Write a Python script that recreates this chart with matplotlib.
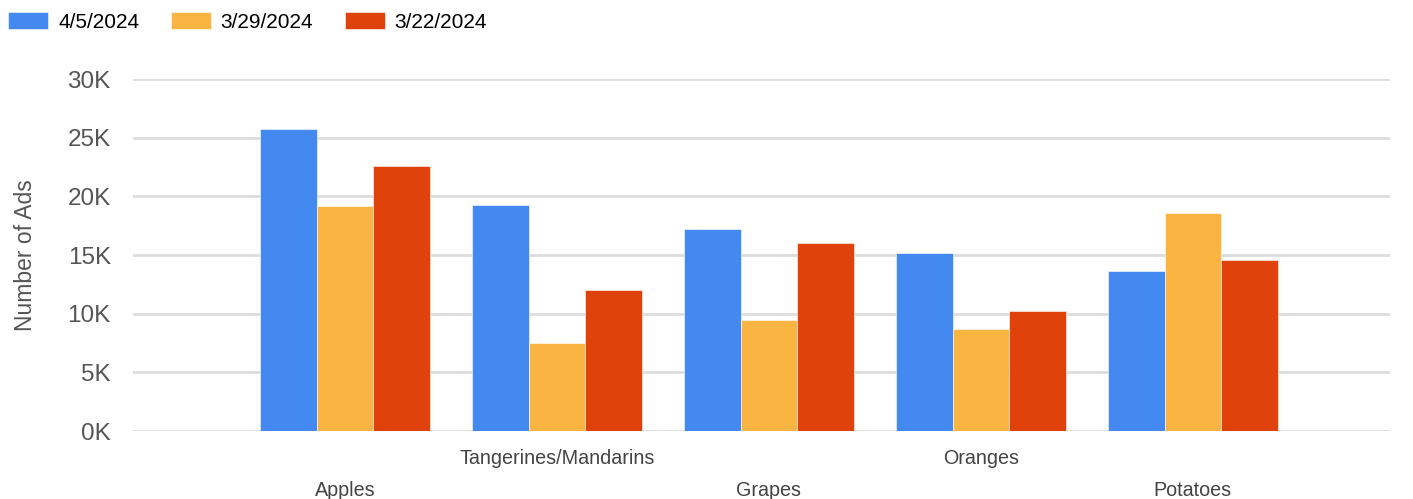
import matplotlib
matplotlib.use("Agg")
import matplotlib.pyplot as plt
import numpy as np

# 数据（单位：千）
categories = ["Apples", "Tangerines/Mandarins", "Grapes", "Oranges", "Potatoes"]
series_names = ["4/5/2024", "3/29/2024", "3/22/2024"]
ads_0405 = [25.7, 19.3, 17.25, 15.15, 13.6]
ads_0329 = [19.2, 7.5, 9.5, 8.7, 18.6]
ads_0322 = [22.6, 12.0, 16.0, 10.2, 14.6]
y_ticks = [0, 5, 10, 15, 20, 25, 30]

colors = ["#4389f0", "#fab442", "#e0420b"]

plt.rcParams["font.family"] = ["Liberation Sans", "DejaVu Sans"]

fig = plt.figure(figsize=(14.13, 4.99), dpi=100)
W, H = 1413, 499
ax = fig.add_axes([133 / W, (H - 431) / H, (1390 - 133) / W, (431 - 79) / H])

x = np.arange(len(categories))
bw = 0.8 / 3
for i, (vals, name) in enumerate(zip([ads_0405, ads_0329, ads_0322], series_names)):
    ax.bar(x + (i - 1) * bw, vals, width=bw, color=colors[i], label=name,
           edgecolor="white", linewidth=0.4, zorder=3)

ax.set_ylim(0, 30)
ax.set_xlim(-1.0, 4.93)
ax.set_yticks(y_ticks, [f"{t}K" for t in y_ticks])
ax.grid(axis="y", color="#dddddd", linewidth=2, zorder=0)
for s in ax.spines.values():
    s.set_visible(False)
ax.tick_params(axis="y", length=0, pad=16, labelsize=17.5, labelcolor="#555555")

# x 轴标签交错排列
ax.set_xticks(x, categories)
ax.tick_params(axis="x", length=0, labelsize=14.2, labelcolor="#444444")
for i, tick in enumerate(ax.xaxis.get_major_ticks()):
    tick.set_pad(13 if i % 2 == 1 else 36)

ax.set_ylabel("Number of Ads", fontsize=16.5, color="#555555")
ax.yaxis.set_label_coords(-0.0764, 0.5)

fig.legend(loc="upper left", bbox_to_anchor=(0.0, 0.993), ncol=3, frameon=False,
           fontsize=15, handlelength=1.92, handleheight=0.9, handletextpad=0.48,
           columnspacing=1.5, borderaxespad=0.2, borderpad=0.2)

fig.savefig("out.png", dpi=100, facecolor="white")
